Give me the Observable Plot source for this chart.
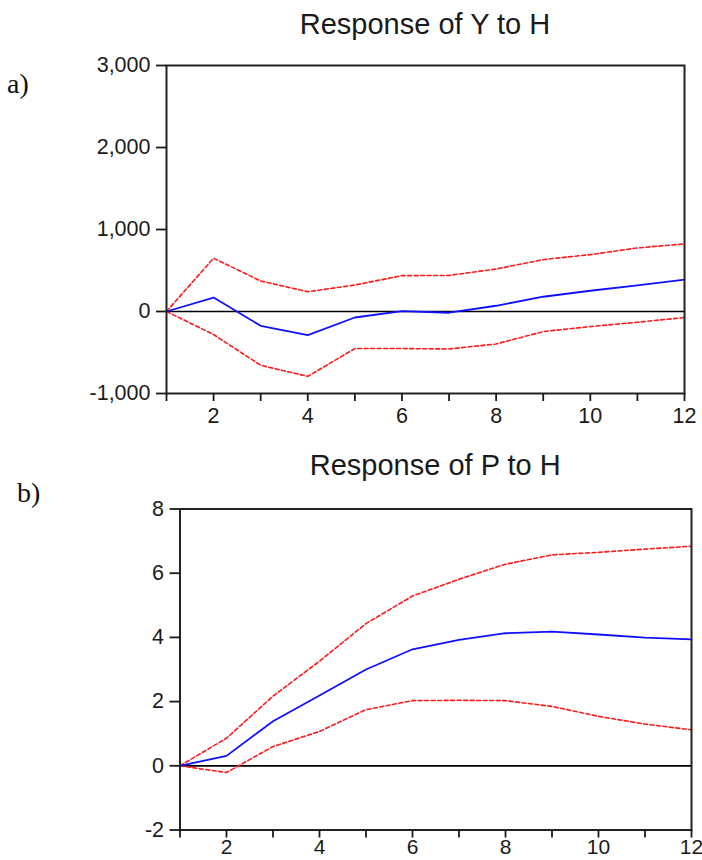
<!DOCTYPE html>
<html>
<head>
<meta charset="utf-8">
<script src="https://cdn.jsdelivr.net/npm/d3@7"></script>
<script src="https://cdn.jsdelivr.net/npm/@observablehq/plot@0.6"></script>
<style>
  html, body { margin: 0; padding: 0; background: #fff; overflow: hidden; }
  #page { position: relative; width: 702px; height: 860px; font-family: Arial, "Liberation Sans", sans-serif; }
  .title { position: absolute; font-size: 29px; line-height: 1; color: #1a1a1a; text-align: center; white-space: nowrap; }
  .tag { position: absolute; font-family: "Times New Roman", "Liberation Serif", serif; font-size: 28px; line-height: 1; color: #111; }
  .panel { position: absolute; left: 0; }
  .panel svg { overflow: visible; }
</style>
</head>
<body>
<div id="page"></div>
<script>
// ---- data ----
const periods = [1, 2, 3, 4, 5, 6, 7, 8, 9, 10, 11, 12];

// Panel a: Response of Y to H
const yResponse = [0, 170, -175, -289, -73, 5, -15, 70, 180, 253, 318, 388];
const yUpper    = [0, 650, 372, 241, 323, 437, 440, 518, 633, 694, 775, 824];
const yLower    = [0, -281, -656, -791, -452, -452, -457, -396, -245, -184, -131, -73];
const yTicks    = [-1000, 0, 1000, 2000, 3000];

// Panel b: Response of P to H
const pResponse = [0, 0.31, 1.39, 2.19, 3.0, 3.63, 3.92, 4.13, 4.18, 4.09, 3.99, 3.94];
const pUpper    = [0, 0.86, 2.17, 3.26, 4.43, 5.29, 5.81, 6.28, 6.57, 6.65, 6.75, 6.84];
const pLower    = [0, -0.21, 0.60, 1.07, 1.75, 2.03, 2.04, 2.03, 1.85, 1.54, 1.30, 1.12];
const pTicks    = [-2, 0, 2, 4, 6, 8];

const xTicks = periods;
const titles = ["Response of Y to H", "Response of P to H"];
const tags = ["a)", "b)"];

// ---- drawing ----
const page = document.getElementById("page");
const hyphen = s => s.replace(/\u2212/g, "-");
const fmtComma = d => hyphen(d3.format(",")(d));
const fmtPlain = d => hyphen(String(d));

function rows(vals) { return periods.map((p, i) => ({x: p, v: vals[i]})); }

function makePanel({resp, up, lo, ticks, tickFmt, yDomain, top, height, ml, mr, mt, mb, xPad, xFont}) {
  const chart = Plot.plot({
    width: 702,
    height,
    marginLeft: ml,
    marginRight: mr,
    marginTop: mt,
    marginBottom: mb,
    style: {fontFamily: 'Arial, "Liberation Sans", sans-serif', color: "#1a1a1a", background: "transparent", overflow: "visible"},
    x: {domain: [1, 12], axis: null},
    y: {domain: yDomain, axis: null},
    marks: [
      Plot.ruleY([0], {stroke: "#000", strokeWidth: 1.7}),
      Plot.line(rows(up), {x: "x", y: "v", stroke: "#ff1a1a", strokeWidth: 1.6, strokeDasharray: "4,2.5"}),
      Plot.line(rows(lo), {x: "x", y: "v", stroke: "#ff1a1a", strokeWidth: 1.6, strokeDasharray: "4,2.5"}),
      Plot.line(rows(resp), {x: "x", y: "v", stroke: "#1010ff", strokeWidth: 1.8}),
      Plot.frame({stroke: "#222", strokeWidth: 2}),
      Plot.axisX({ticks: xTicks, tickSize: 8, tickPadding: xPad, fontSize: xFont, strokeWidth: 1.8,
                  tickFormat: d => d % 2 === 0 ? String(d) : "", label: null}),
      Plot.axisY({ticks, tickSize: 10, tickPadding: 6, fontSize: 21.5, strokeWidth: 1.8,
                  tickFormat: tickFmt, label: null})
    ]
  });
  const wrap = document.createElement("div");
  wrap.className = "panel";
  wrap.style.top = top + "px";
  wrap.appendChild(chart);
  page.appendChild(wrap);
}

makePanel({resp: yResponse, up: yUpper, lo: yLower, ticks: yTicks, tickFmt: fmtComma,
  yDomain: [-1000, 3000], top: 0, height: 430, ml: 166, mr: 18, mt: 65, mb: 37, xPad: 6, xFont: 21.5});
makePanel({resp: pResponse, up: pUpper, lo: pLower, ticks: pTicks, tickFmt: fmtPlain,
  yDomain: [-2, 8], top: 430, height: 430, ml: 179.5, mr: 11, mt: 78.5, mb: 30.5, xPad: 1.5, xFont: 21});

function addText(cls, txt, left, top, width) {
  const d = document.createElement("div");
  d.className = cls;
  d.textContent = txt;
  d.style.left = left + "px";
  d.style.top = top + "px";
  if (width) d.style.width = width + "px";
  page.appendChild(d);
}
addText("title", titles[0], 166, 9.5, 518);
addText("title", titles[1], 179.5, 450.5, 511.5);
addText("tag", tags[0], 7, 69.5);
addText("tag", tags[1], 17, 478.5);
</script>
</body>
</html>
